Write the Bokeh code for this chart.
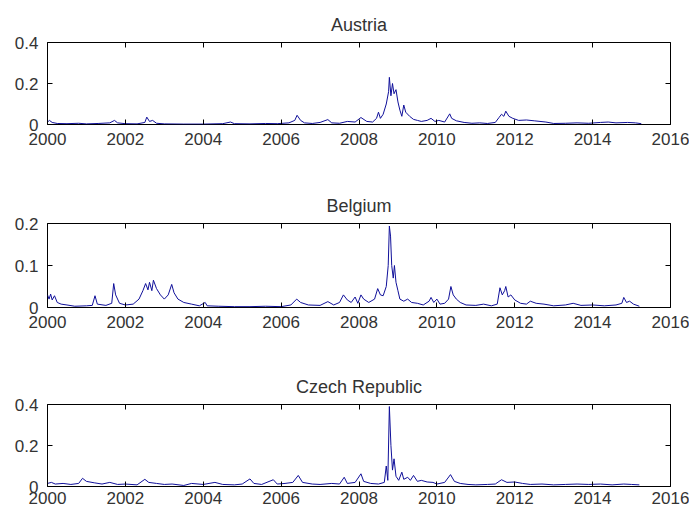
from bokeh.plotting import figure
from bokeh.layouts import column
from bokeh.models import LinearAxis, FixedTicker, Range1d
from bokeh.embed import file_html
from bokeh.resources import INLINE

# ---------------- data ----------------
x_ticks = [2000, 2002, 2004, 2006, 2008, 2010, 2012, 2014, 2016]

aut_x = [2000.0, 2000.05, 2000.12, 2000.25, 2000.5, 2000.8, 2001.0, 2001.3, 2001.6, 2001.72,
         2001.8, 2002.0, 2002.3, 2002.5, 2002.55, 2002.62, 2002.7, 2002.8, 2003.0, 2003.5,
         2004.0, 2004.5, 2004.7, 2004.8, 2005.2, 2005.6, 2005.9, 2006.2, 2006.35, 2006.41,
         2006.5, 2006.6, 2006.8, 2007.0, 2007.2, 2007.3, 2007.5, 2007.7, 2007.9, 2008.05,
         2008.2, 2008.35, 2008.45, 2008.5, 2008.55, 2008.62, 2008.7, 2008.76, 2008.78, 2008.82,
         2008.86, 2008.9, 2008.95, 2009.0, 2009.05, 2009.1, 2009.15, 2009.2, 2009.3, 2009.4,
         2009.5, 2009.6, 2009.75, 2009.85, 2009.95, 2010.05, 2010.2, 2010.33, 2010.38, 2010.5,
         2010.7, 2010.9, 2011.1, 2011.3, 2011.5, 2011.6, 2011.66, 2011.72, 2011.77, 2011.85,
         2011.95, 2012.1, 2012.3, 2012.5, 2012.8, 2013.0, 2013.3, 2013.6, 2013.9, 2014.2,
         2014.4, 2014.6, 2014.9, 2015.1, 2015.25]
aut_y = [0.012, 0.02, 0.01, 0.005, 0.004, 0.006, 0.003, 0.005, 0.008, 0.02,
         0.008, 0.004, 0.003, 0.01, 0.036, 0.015, 0.02, 0.006, 0.003, 0.002,
         0.002, 0.004, 0.012, 0.004, 0.003, 0.005, 0.004, 0.008, 0.02, 0.045,
         0.02, 0.008, 0.005, 0.01, 0.024, 0.008, 0.006, 0.015, 0.012, 0.034,
         0.015, 0.012, 0.03, 0.06, 0.03, 0.05, 0.1, 0.16, 0.23, 0.14,
         0.2, 0.15, 0.17, 0.11, 0.07, 0.04, 0.095, 0.06, 0.04, 0.025,
         0.02, 0.015, 0.02, 0.03, 0.015, 0.02, 0.012, 0.052, 0.03, 0.018,
         0.01, 0.006, 0.008, 0.005, 0.01, 0.035, 0.05, 0.04, 0.065, 0.04,
         0.03, 0.02, 0.022, 0.018, 0.012, 0.005, 0.006, 0.008, 0.006, 0.01,
         0.012, 0.008, 0.01, 0.008, 0.004]

bel_x = [2000.0, 2000.04, 2000.08, 2000.12, 2000.18, 2000.25, 2000.35, 2000.5, 2000.7, 2001.0,
         2001.15, 2001.22, 2001.28, 2001.5, 2001.65, 2001.7, 2001.75, 2001.85, 2002.0, 2002.2,
         2002.35, 2002.45, 2002.52, 2002.58, 2002.62, 2002.68, 2002.72, 2002.8, 2002.9, 2003.0,
         2003.1, 2003.19, 2003.25, 2003.35, 2003.5, 2003.7, 2003.9, 2004.05, 2004.1, 2004.4,
         2004.8, 2005.2, 2005.6, 2006.0, 2006.25, 2006.4, 2006.5, 2006.7, 2007.0, 2007.2,
         2007.35, 2007.5, 2007.6, 2007.7, 2007.8, 2007.9, 2007.97, 2008.05, 2008.12, 2008.25,
         2008.4, 2008.48, 2008.55, 2008.62, 2008.7, 2008.75, 2008.78, 2008.81, 2008.84, 2008.88,
         2008.91, 2008.95, 2009.0, 2009.05, 2009.15, 2009.25, 2009.35, 2009.5, 2009.65, 2009.8,
         2009.85, 2009.92, 2010.0, 2010.08, 2010.2, 2010.3, 2010.36, 2010.42, 2010.5, 2010.6,
         2010.75, 2011.0, 2011.2, 2011.4, 2011.55, 2011.62, 2011.68, 2011.74, 2011.77, 2011.83,
         2011.9, 2012.0, 2012.15, 2012.3, 2012.4, 2012.55, 2012.75, 2013.0, 2013.3, 2013.5,
         2013.7, 2014.0, 2014.3, 2014.6, 2014.75, 2014.8, 2014.87, 2014.95, 2015.05, 2015.2]
bel_y = [0.03, 0.02, 0.032, 0.018, 0.028, 0.012, 0.008, 0.006, 0.003, 0.004,
         0.005, 0.028, 0.008, 0.005, 0.01, 0.057, 0.03, 0.01, 0.006, 0.008,
         0.02, 0.04, 0.057, 0.042, 0.06, 0.04, 0.065, 0.045, 0.03, 0.02,
         0.03, 0.055, 0.035, 0.02, 0.012, 0.008, 0.004, 0.012, 0.004, 0.003,
         0.002, 0.002, 0.003, 0.002, 0.006, 0.02, 0.012, 0.006, 0.005, 0.014,
         0.006, 0.012, 0.03, 0.018, 0.012, 0.025, 0.01, 0.03, 0.02, 0.012,
         0.02, 0.045, 0.03, 0.028, 0.05, 0.1, 0.194, 0.17, 0.1, 0.07,
         0.1, 0.06, 0.04, 0.02, 0.015, 0.02, 0.012, 0.01, 0.006, 0.015,
         0.024, 0.012, 0.02, 0.008, 0.01, 0.02, 0.05, 0.03, 0.02, 0.012,
         0.006, 0.005, 0.008, 0.004, 0.008, 0.047, 0.03, 0.04, 0.05, 0.025,
         0.03, 0.018, 0.01, 0.008, 0.015, 0.01, 0.008, 0.004, 0.006, 0.01,
         0.005, 0.006, 0.004, 0.006, 0.01, 0.024, 0.012, 0.015, 0.008, 0.003]

cze_x = [2000.0, 2000.1, 2000.2, 2000.4, 2000.6, 2000.8, 2000.9, 2001.0, 2001.2, 2001.4,
         2001.6, 2001.8, 2002.0, 2002.3, 2002.5, 2002.6, 2002.8, 2003.0, 2003.2, 2003.5,
         2003.7, 2004.0, 2004.3, 2004.5, 2004.8, 2005.0, 2005.2, 2005.3, 2005.5, 2005.8,
         2005.9, 2006.1, 2006.3, 2006.44, 2006.55, 2006.8, 2007.0, 2007.3, 2007.5, 2007.62,
         2007.7, 2007.9, 2008.05, 2008.12, 2008.3, 2008.5, 2008.65, 2008.7, 2008.74, 2008.78,
         2008.82, 2008.86, 2008.9, 2008.95, 2009.02, 2009.1, 2009.15, 2009.25, 2009.32, 2009.4,
         2009.5, 2009.6, 2009.75, 2009.9, 2010.0, 2010.2, 2010.35, 2010.45, 2010.6, 2010.8,
         2011.0, 2011.3, 2011.5, 2011.66, 2011.8, 2012.0, 2012.2, 2012.4, 2012.7, 2013.0,
         2013.3, 2013.6, 2013.9, 2014.2, 2014.5, 2014.8, 2015.0, 2015.2]
cze_y = [0.015, 0.02, 0.012, 0.015, 0.01, 0.015, 0.04, 0.025, 0.018, 0.012,
         0.02, 0.01, 0.012, 0.008, 0.035, 0.02, 0.015, 0.01, 0.012, 0.005,
         0.015, 0.01, 0.02, 0.01, 0.008, 0.012, 0.037, 0.015, 0.01, 0.033,
         0.012, 0.015, 0.02, 0.054, 0.02, 0.012, 0.01, 0.015, 0.012, 0.045,
         0.015, 0.02, 0.062, 0.025, 0.015, 0.012, 0.02, 0.1, 0.03, 0.39,
         0.2, 0.08, 0.135, 0.05, 0.03, 0.07, 0.035, 0.045, 0.03, 0.054,
         0.025, 0.03, 0.022, 0.02, 0.012, 0.02, 0.058, 0.025, 0.015, 0.01,
         0.008, 0.01, 0.012, 0.033, 0.02, 0.022, 0.015, 0.01, 0.012, 0.008,
         0.01, 0.012, 0.01, 0.012, 0.008, 0.012, 0.01, 0.008]

# ---------------- styling ----------------
LINE = "#10109a"
FONT = "Liberation Sans"
TXT = "#333333"


def style_axis(ax, ticks, labels=None, standoff=6):
    ax.ticker = FixedTicker(ticks=ticks)
    ax.axis_line_color = None
    ax.major_tick_in = 5
    ax.major_tick_out = 0
    ax.major_tick_line_color = "black"
    ax.minor_tick_line_color = None
    ax.major_label_text_font = FONT
    ax.major_label_text_font_size = "17px"
    ax.major_label_text_color = TXT
    ax.major_label_standoff = standoff
    if labels is not None:
        ax.major_label_overrides = labels


def hide_labels(ax, ticks):
    ax.major_label_overrides = {v: "" for v in ticks}
    ax.major_label_standoff = 0


def panel(title, xs, ys, ymax, yticks, ylabels, height, top, bottom, xstandoff=8):
    p = figure(width=689, height=height, x_range=Range1d(2000, 2016),
               y_range=Range1d(0, ymax), output_backend="svg", toolbar_location=None,
               x_axis_type=None, y_axis_type=None,
               min_border_left=47, min_border_right=19,
               min_border_top=top, min_border_bottom=bottom)
    p.line(xs, ys, line_color=LINE, line_width=1)
    p.outline_line_color = "black"
    p.outline_line_width = 1
    p.background_fill_color = "white"
    p.border_fill_color = "white"

    p.title.text = title
    p.title.align = "center"
    p.title.text_font = FONT
    p.title.text_font_style = "normal"
    p.title.text_font_size = "18px"
    p.title.text_color = TXT
    p.title.standoff = 16

    b = LinearAxis()
    style_axis(b, x_ticks, standoff=xstandoff)
    p.add_layout(b, "below")
    t = LinearAxis()
    style_axis(t, x_ticks)
    hide_labels(t, x_ticks)
    p.add_layout(t, "above")

    l = LinearAxis()
    style_axis(l, yticks, {v: s for v, s in zip(yticks, ylabels)}, standoff=9)
    p.add_layout(l, "left")
    r = LinearAxis()
    style_axis(r, yticks)
    hide_labels(r, yticks)
    p.add_layout(r, "right")
    return p


p1 = panel("Austria", aut_x, aut_y, 0.4, [0, 0.2, 0.4], ["0", "0.2", "0.4"], 181, 42, 57)
p2 = panel("Belgium", bel_x, bel_y, 0.2, [0, 0.1, 0.2], ["0", "0.1", "0.2"], 181, 42, 55)
p3 = panel("Czech Republic", cze_x, cze_y, 0.4, [0, 0.2, 0.4], ["0", "0.2", "0.4"], 149, 42, 25,
           xstandoff=5)

layout = column(p1, p2, p3, spacing=0)

open("out.html", "w").write(file_html(layout, INLINE))
